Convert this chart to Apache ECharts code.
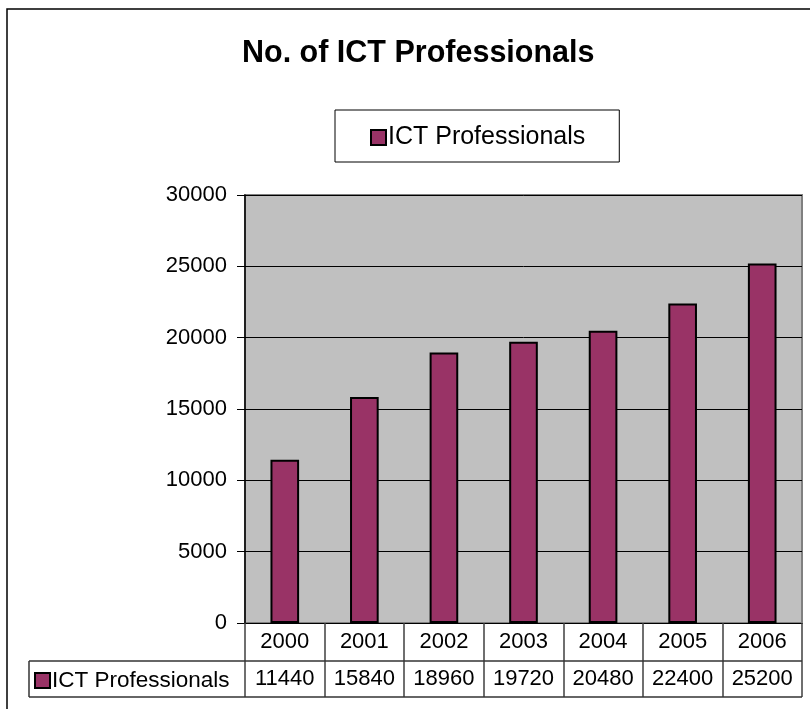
<!DOCTYPE html>
<html>
<head>
<meta charset="utf-8">
<script src="https://cdn.jsdelivr.net/npm/echarts@6/dist/echarts.min.js"></script>
<style>
  html, body { margin: 0; padding: 0; background: #fff; }
  #chart { width: 810px; height: 709px; }
</style>
</head>
<body>
<div id="chart"></div>
<script>
var years = ['2000', '2001', '2002', '2003', '2004', '2005', '2006'];
var professionals = [11440, 15840, 18960, 19720, 20480, 22400, 25200];
var seriesName = 'ICT Professionals';

var font = '"Liberation Sans", Arial, sans-serif';
var chart = echarts.init(document.getElementById('chart'));

var option = {
    backgroundColor: '#ffffff',
    animation: false,
    title: {
        text: 'No. of ICT Professionals',
        left: 237,
        top: 33,
        textStyle: { fontFamily: font, fontSize: 30.5, fontWeight: 'bold', color: '#000' }
    },
    legend: [{
        data: [seriesName],
        left: 335,
        top: 110,
        orient: 'horizontal',
        padding: [15, 34, 12, 35],
        borderColor: '#000',
        borderWidth: 1,
        itemWidth: 15,
        itemHeight: 15,
        itemGap: 4,
        icon: 'rect',
        textStyle: { fontFamily: font, fontSize: 25, color: '#000', padding: [0, 0, 0, -3] }
    }, {
        // key inside the data table
        data: [seriesName],
        left: 34,
        top: 669,
        padding: 0,
        itemWidth: 15,
        itemHeight: 15,
        icon: 'rect',
        textStyle: { fontFamily: font, fontSize: 22.5, color: '#000', padding: [0, 0, 0, -3] }
    }],
    grid: {
        left: 245,
        right: 8,
        top: 195,
        bottom: 86,
        show: true,
        backgroundColor: '#C0C0C0',
        borderColor: '#808080',
        borderWidth: 2
    },
    xAxis: [{
        type: 'category',
        data: years,
        axisLine: { show: true, lineStyle: { color: '#000', width: 1 } },
        axisTick: { show: true, length: 74, lineStyle: { color: '#404040', width: 1.5 } },
        axisLabel: {
            fontFamily: font, fontSize: 22, color: '#000',
            margin: 19, verticalAlign: 'middle'
        }
    }, {
        type: 'category',
        data: professionals.map(String),
        position: 'bottom',
        axisLine: { show: false },
        axisTick: { show: false },
        axisLabel: {
            fontFamily: font, fontSize: 22, color: '#000',
            margin: 56, verticalAlign: 'middle'
        }
    }],
    yAxis: {
        type: 'value',
        min: 0,
        max: 30000,
        interval: 5000,
        axisLine: { show: true, lineStyle: { color: '#000', width: 1.5 } },
        axisTick: { show: true, length: 8, lineStyle: { color: '#000' } },
        axisLabel: {
            fontFamily: font, fontSize: 22, color: '#000', margin: 18,
            formatter: function (v) { return String(v); }
        },
        splitLine: { show: true, lineStyle: { color: '#000', width: 1 } }
    },
    series: [{
        name: seriesName,
        type: 'bar',
        data: professionals,
        barWidth: '36%',
        itemStyle: { color: '#993366', borderColor: '#000', borderWidth: 2 }
    }],
    graphic: [
        // outer chart border (only left/top visible in the frame)
        { type: 'rect', shape: { x: 7, y: 9, width: 830, height: 740 },
          style: { fill: 'none', stroke: '#000', lineWidth: 1.5 }, z: 100 },
        // data table row lines
        { type: 'line', shape: { x1: 29, y1: 661, x2: 802, y2: 661 },
          style: { stroke: '#333', lineWidth: 1.5 }, z: 100 },
        { type: 'line', shape: { x1: 29, y1: 697, x2: 802, y2: 697 },
          style: { stroke: '#333', lineWidth: 1.5 }, z: 100 },
        { type: 'line', shape: { x1: 29, y1: 661, x2: 29, y2: 697 },
          style: { stroke: '#333', lineWidth: 1.5 }, z: 100 }
    ]
};
chart.setOption(option);
</script>
</body>
</html>
